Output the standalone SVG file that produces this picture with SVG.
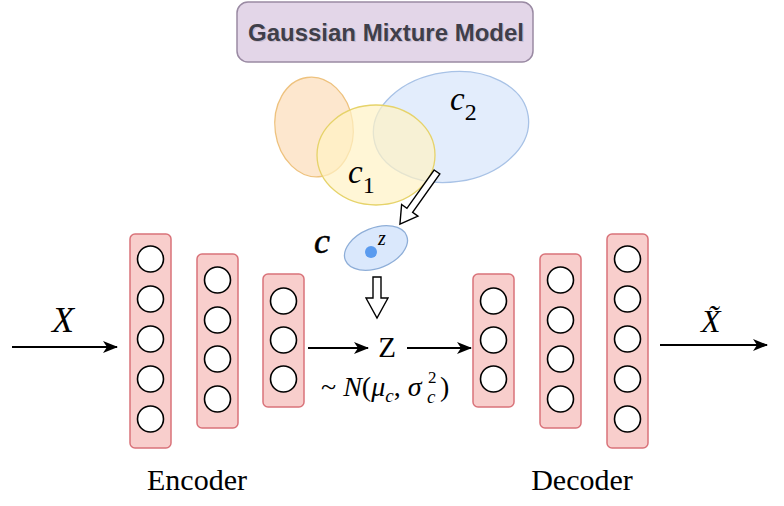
<svg xmlns="http://www.w3.org/2000/svg" width="784" height="506" viewBox="0 0 784 506">
<defs>
<style>
.layer{fill:#f8cecc;stroke:#d9737a;stroke-width:1.5}
.neuron{fill:#ffffff;stroke:#000000;stroke-width:1.6}
.serif{font-family:"Liberation Serif","Times New Roman",serif;fill:#000}
.it{font-style:italic}
.line{stroke:#000;stroke-width:2;fill:none}
.hollow{fill:#ffffff;stroke:#000;stroke-width:1.4;stroke-linejoin:miter}
</style>
<marker id="ah" markerWidth="15" markerHeight="12" refX="14" refY="6" orient="auto" markerUnits="userSpaceOnUse">
<path d="M0,0 L15,6 L0,12 L4,6 Z" fill="#000"/>
</marker>
</defs>
<rect width="784" height="506" fill="#ffffff"/>

<g id="gmm">
<rect x="237" y="2" width="296" height="60" rx="11" fill="#e3d6e8" stroke="#9a8aa3" stroke-width="1.5"/>
<text x="386" y="41" text-anchor="middle" font-family="Liberation Sans,Arial,sans-serif" font-weight="bold" font-size="24" fill="#c9bccf" transform="translate(1.2,1.2)">Gaussian Mixture Model</text>
<text x="386" y="41" text-anchor="middle" font-family="Liberation Sans,Arial,sans-serif" font-weight="bold" font-size="24" fill="#3f3f4a">Gaussian Mixture Model</text>
</g>

<g id="clusters">
<ellipse cx="314" cy="127" rx="39" ry="50" transform="rotate(-8 314 127)" fill="#fde3c6" fill-opacity="0.85" stroke="#eec27e" stroke-width="1.3"/>
<ellipse cx="451" cy="127" rx="78" ry="55" transform="rotate(-8 451 127)" fill="#dce9fb" fill-opacity="0.8" stroke="#a8c2e6" stroke-width="1.3"/>
<ellipse cx="376" cy="155" rx="59" ry="50" fill="#fff2c4" fill-opacity="0.7" stroke="#e6d36a" stroke-width="1.3"/>
<text class="serif it" x="450" y="110" font-size="33">c<tspan font-style="normal" font-size="24" dy="10">2</tspan></text>
<text class="serif it" x="348" y="183" font-size="33">c<tspan font-style="normal" font-size="24" dy="10">1</tspan></text>
</g>

<g id="latent">
<ellipse cx="376" cy="248" rx="33" ry="20" transform="rotate(-22 376 248)" fill="#dae8fc" stroke="#8eaed8" stroke-width="1.3"/>
<circle cx="371" cy="252" r="6" fill="#5a9bef"/>
<text class="serif it" x="378" y="245" font-size="20">z</text>
<text class="serif it" x="314" y="253" font-size="36" stroke="#000" stroke-width="0.5">c</text>
</g>

<g id="encoder">
<rect class="layer" x="130" y="234" width="41" height="214" rx="5"/>
<circle class="neuron" cx="150.5" cy="259" r="13"/>
<circle class="neuron" cx="150.5" cy="299" r="13"/>
<circle class="neuron" cx="150.5" cy="339" r="13"/>
<circle class="neuron" cx="150.5" cy="379" r="13"/>
<circle class="neuron" cx="150.5" cy="419" r="13"/>
<rect class="layer" x="197" y="254" width="41" height="174" rx="5"/>
<circle class="neuron" cx="217.5" cy="280" r="13"/>
<circle class="neuron" cx="217.5" cy="320" r="13"/>
<circle class="neuron" cx="217.5" cy="359" r="13"/>
<circle class="neuron" cx="217.5" cy="399" r="13"/>
<rect class="layer" x="263" y="274" width="41" height="133" rx="5"/>
<circle class="neuron" cx="283.5" cy="301" r="13"/>
<circle class="neuron" cx="283.5" cy="340" r="13"/>
<circle class="neuron" cx="283.5" cy="379" r="13"/>
<text class="serif" x="197" y="490" font-size="30" text-anchor="middle">Encoder</text>
</g>

<g id="decoder">
<rect class="layer" x="473" y="274" width="41" height="133" rx="5"/>
<circle class="neuron" cx="493.5" cy="301" r="13"/>
<circle class="neuron" cx="493.5" cy="340" r="13"/>
<circle class="neuron" cx="493.5" cy="379" r="13"/>
<rect class="layer" x="540" y="254" width="41" height="174" rx="5"/>
<circle class="neuron" cx="560.5" cy="280" r="13"/>
<circle class="neuron" cx="560.5" cy="320" r="13"/>
<circle class="neuron" cx="560.5" cy="359" r="13"/>
<circle class="neuron" cx="560.5" cy="399" r="13"/>
<rect class="layer" x="607" y="234" width="41" height="214" rx="5"/>
<circle class="neuron" cx="627.5" cy="259" r="13"/>
<circle class="neuron" cx="627.5" cy="299" r="13"/>
<circle class="neuron" cx="627.5" cy="339" r="13"/>
<circle class="neuron" cx="627.5" cy="379" r="13"/>
<circle class="neuron" cx="627.5" cy="419" r="13"/>
<text class="serif" x="582" y="490" font-size="30" text-anchor="middle">Decoder</text>
</g>

<g id="z-node">
<text class="serif" x="387" y="357" font-size="29" text-anchor="middle">Z</text>
<text class="serif" x="321" y="396" font-size="28">~ <tspan class="it">N</tspan>(<tspan class="it">μ</tspan><tspan class="it" font-size="19" dy="6">c</tspan><tspan dy="-6">,  </tspan><tspan class="it">σ</tspan></text>
<text class="serif" x="428" y="383" font-size="17">2</text>
<text class="serif it" x="427" y="403" font-size="19">c</text>
<text class="serif" x="440" y="396" font-size="28">)</text>
</g>

<g id="connectors">
<line class="line" x1="12" y1="347" x2="117" y2="347" marker-end="url(#ah)"/>
<text class="serif it" x="52" y="332" font-size="36">X</text>
<line class="line" x1="308" y1="348" x2="368" y2="348" marker-end="url(#ah)"/>
<line class="line" x1="407" y1="348" x2="471" y2="348" marker-end="url(#ah)"/>
<line class="line" x1="660" y1="345" x2="767" y2="345" marker-end="url(#ah)"/>
<text class="serif it" x="701" y="332" font-size="32">X̃</text>
<polygon class="hollow" transform="translate(437,172) rotate(35.4)" points="-3.5,0 3.5,0 3.5,47 10,47 0,64 -10,47 -3.5,47"/>
<polygon class="hollow" transform="translate(377,277)" points="-4,0 4,0 4,21 11,21 0,41 -11,21 -4,21"/>
</g>
</svg>
